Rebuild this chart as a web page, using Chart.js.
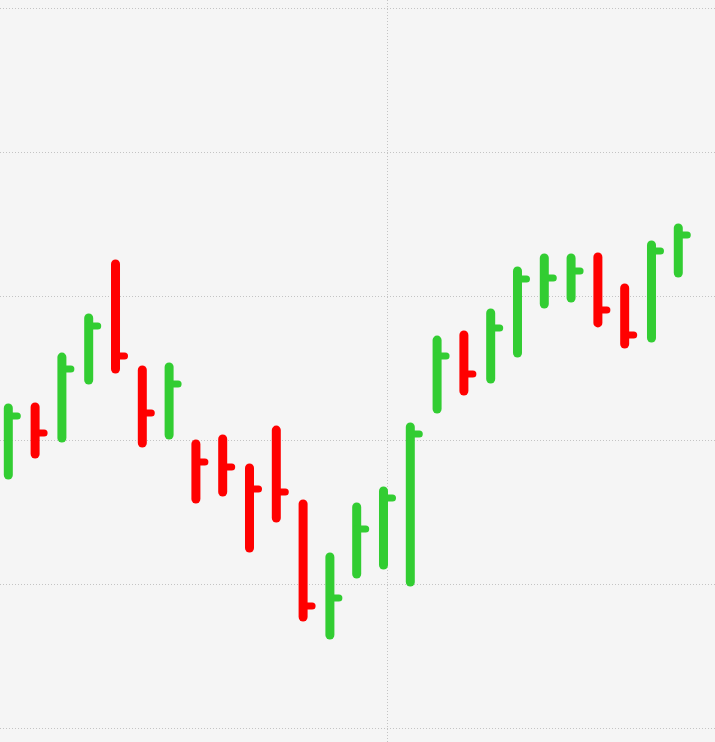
<!DOCTYPE html>
<html>
<head>
<meta charset="utf-8">
<script src="https://cdn.jsdelivr.net/npm/chart.js@4/dist/chart.umd.min.js"></script>
<style>
  html, body { margin: 0; padding: 0; background: #f5f5f5; }
  #wrap { width: 715px; height: 742px; position: relative; }
</style>
</head>
<body>
<div id="wrap"><canvas id="chart"></canvas></div>
<script>
// HLC bars, one per session (index 0..25)
const highs = [122.22, 122.29, 125.76, 128.47, 132.22, 124.86, 125.07, 119.72, 120.07, 118.06,
               120.69, 115.56, 111.88, 115.35, 116.46, 120.90, 126.94, 127.29, 128.82, 131.74,
               132.64, 132.64, 132.71, 130.56, 133.54, 134.72];
const lows = [117.57, 119.03, 120.14, 124.17, 124.93, 119.79, 120.35, 115.90, 116.39, 112.50,
              114.58, 107.71, 106.46, 110.69, 111.32, 110.14, 122.15, 123.40, 124.24, 126.04,
              129.44, 129.86, 128.13, 126.67, 127.08, 131.60];
const closes = [121.67, 120.49, 124.93, 127.92, 125.83, 121.88, 123.89, 118.47, 118.13, 116.60,
                116.39, 108.47, 109.03, 113.82, 115.97, 120.42, 125.83, 124.58, 127.78, 131.18,
                131.25, 131.74, 129.03, 127.29, 133.13, 134.24];
const yGridValues = [100, 110, 120, 130, 140, 150];
const xGridValues = [14.15];

const UP = '#32cd32';
const DOWN = '#ff0000';
const GRID = '#c4c4c4';

const points = closes.map((c, i) => ({ x: i, y: c }));

// draws the high-low stem and the close tick for every session via the chart scales
const hlcPlugin = {
  id: 'hlc',
  afterDatasetsDraw(chart) {
    const { ctx, scales: { x, y } } = chart;
    ctx.save();
    ctx.lineCap = 'round';
    closes.forEach((c, i) => {
      const up = i === 0 ? true : c >= closes[i - 1];
      const px = x.getPixelForValue(i);
      ctx.strokeStyle = up ? UP : DOWN;
      ctx.lineWidth = 9;
      ctx.beginPath();
      ctx.moveTo(px, y.getPixelForValue(highs[i]));
      ctx.lineTo(px, y.getPixelForValue(lows[i]));
      ctx.stroke();
      const cy = y.getPixelForValue(c);
      ctx.lineWidth = 7;
      ctx.beginPath();
      ctx.moveTo(px, cy);
      ctx.lineTo(px + 9, cy);
      ctx.stroke();
    });
    ctx.restore();
  }
};

const gridOpts = {
  color: GRID,
  lineWidth: 1,
  drawTicks: false,
  tickLength: 0
};

new Chart(document.getElementById('chart'), {
  type: 'scatter',
  data: {
    datasets: [{
      data: points,
      pointRadius: 0,
      pointHoverRadius: 0,
      showLine: false
    }]
  },
  options: {
    responsive: true,
    maintainAspectRatio: false,
    animation: false,
    layout: { padding: 0 },
    plugins: { legend: { display: false }, tooltip: { enabled: false } },
    events: [],
    scales: {
      x: {
        type: 'linear',
        min: -0.31,
        max: 26.37,
        border: { display: false, dash: [1, 2] },
        grid: gridOpts,
        ticks: { display: false },
        afterBuildTicks(scale) { scale.ticks = xGridValues.map(v => ({ value: v })); }
      },
      y: {
        type: 'linear',
        min: 99.028,
        max: 150.556,
        border: { display: false, dash: [1, 2] },
        grid: gridOpts,
        ticks: { display: false },
        afterBuildTicks(scale) { scale.ticks = yGridValues.map(v => ({ value: v })); }
      }
    }
  },
  plugins: [hlcPlugin]
});
</script>
</body>
</html>
